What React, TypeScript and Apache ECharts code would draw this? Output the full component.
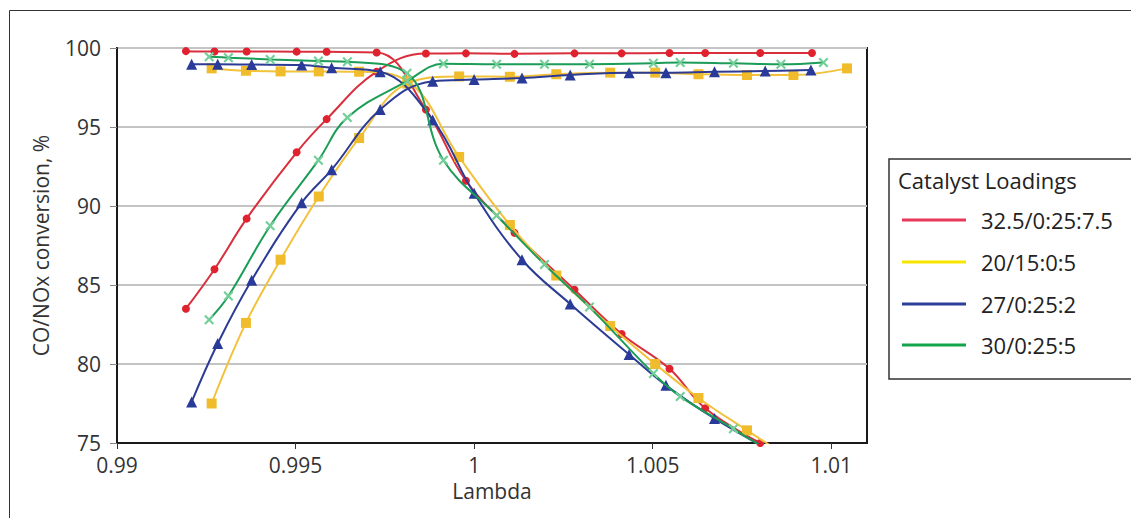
import React, { useEffect, useRef } from "react";
import * as echarts from "echarts";

// Lambda tick labels (x) and conversion ticks (y)
const xTicks = [0.99, 0.995, 1, 1.005, 1.01];
const yTicks = [75, 80, 85, 90, 95, 100];

// Catalyst loadings
const catalysts = ["32.5/0:25:7.5", "20/15:0:5", "27/0:25:2", "30/0:25:5"];

// 32.5/0:25:7.5 (red)
const redLambda = [0.99193, 0.99273, 0.99363, 0.99503, 0.99587, 0.99727, 0.99865, 0.99977, 1.00113, 1.00281, 1.00413, 1.00547, 1.00647, 1.00801, 1.00946];
const redCO = [83.5, 86.0, 89.2, 93.4, 95.5, 98.5, 99.65, 99.66, 99.63, 99.66, 99.66, 99.68, 99.68, 99.68, 99.68];
const redNOx = [99.8, 99.78, 99.78, 99.77, 99.76, 99.72, 96.1, 91.6, 88.3, 84.7, 81.9, 79.7, 77.2, 75.0, null];

// 20/15:0:5 (yellow)
const yellowLambda = [0.99265, 0.99361, 0.99458, 0.99565, 0.99678, 0.99813, 0.99958, 1.0010, 1.0023, 1.00381, 1.00507, 1.00628, 1.00764, 1.00894, 1.01044];
const yellowCO = [77.5, 82.6, 86.6, 90.6, 94.3, 97.75, 98.2, 98.18, 98.34, 98.44, 98.44, 98.34, 98.29, 98.29, 98.71];
const yellowNOx = [98.71, 98.56, 98.52, 98.52, 98.5, 97.9, 93.1, 88.8, 85.6, 82.4, 80.0, 77.85, 75.8, 73.9, null];

// 27/0:25:2 (blue)
const blueLambda = [0.99209, 0.99282, 0.99377, 0.99517, 0.99601, 0.99737, 0.99884, 1.0, 1.00134, 1.00269, 1.00434, 1.00537, 1.00673, 1.00815, 1.00943];
const blueCO = [77.6, 81.3, 85.3, 90.2, 92.3, 96.1, 97.9, 98.0, 98.1, 98.29, 98.44, 98.44, 98.5, 98.54, 98.6];
const blueNOx = [98.97, 98.97, 98.95, 98.92, 98.75, 98.5, 95.45, 90.8, 86.6, 83.8, 80.6, 78.65, 76.55, 74.7, null];

// 30/0:25:5 (green)
const greenLambda = [0.99258, 0.99312, 0.99429, 0.99564, 0.99645, 0.99812, 0.99914, 1.00063, 1.00197, 1.00323, 1.00502, 1.00577, 1.00726, 1.00859, 1.00978];
const greenCO = [82.8, 84.3, 88.75, 92.9, 95.6, 97.9, 99.0, 98.97, 98.97, 98.97, 99.03, 99.09, 99.03, 98.97, 99.09];
const greenNOx = [99.45, 99.39, 99.28, 99.18, 99.13, 98.4, 92.9, 89.4, 86.3, 83.6, 79.4, 77.95, 75.9, 74.0, null];

const FONT = "'Open Sans', 'Noto Sans', sans-serif";
const lineColors = ["#d92f3c", "#f2c23c", "#2c3b94", "#1b9c57"];
const markColors = ["#e0222e", "#f0bc2c", "#2a3a98", "#72cf98"];
const legendColors = ["#e8385a", "#f7e600", "#2e3f9a", "#13a54b"];
const CROSS = "path://M0,1.5L1.5,0L5,3.5L8.5,0L10,1.5L6.5,5L10,8.5L8.5,10L5,6.5L1.5,10L0,8.5L3.5,5Z";
const symbols = ["circle", "rect", "triangle", CROSS];
const symbolSizes = [8, 10, 11, 10];

function pairs(lam: number[], vals: (number | null)[]) {
  const out: number[][] = [];
  lam.forEach((x, i) => {
    const v = vals[i];
    if (v !== null && v !== undefined) out.push([x, v]);
  });
  return out;
}

export default function App() {
  const ref = useRef<HTMLDivElement>(null);
  useEffect(() => {
    if (!ref.current) return;
    const chart = echarts.init(ref.current, null, { renderer: "svg" });
    const sets = [
      [redLambda, redCO, redNOx],
      [yellowLambda, yellowCO, yellowNOx],
      [blueLambda, blueCO, blueNOx],
      [greenLambda, greenCO, greenNOx],
    ] as any[];
    const series: any[] = [];
    sets.forEach((s, k) => {
      [s[1], s[2]].forEach((vals: any) => {
        series.push({
          type: "line",
          name: catalysts[k],
          data: pairs(s[0], vals),
          smooth: 0.4,
          symbol: symbols[k],
          symbolSize: symbolSizes[k],
          showAllSymbol: true,
          clip: true,
          silent: true,
          lineStyle: { color: lineColors[k], width: 2 },
          itemStyle: { color: markColors[k] },
          z: 2 + k,
        });
      });
    });

    const legendY = [220, 262, 304, 345];
    const graphic: any[] = [
      {
        type: "rect",
        shape: { x: 9.5, y: 10.5, width: 1300, height: 700 },
        style: { fill: "none", stroke: "#333", lineWidth: 1 },
        silent: true,
        z: 0,
      },
      {
        type: "rect",
        shape: { x: 889, y: 159, width: 400, height: 220 },
        style: { fill: "#fff", stroke: "#333", lineWidth: 1.5 },
        z: 10,
      },
      {
        type: "text",
        x: 898,
        y: 180,
        style: { text: "Catalyst Loadings", font: `22px ${FONT}`, fill: "#222", verticalAlign: "middle" },
        z: 11,
      },
    ];
    catalysts.forEach((c, i) => {
      graphic.push({
        type: "line",
        shape: { x1: 902, y1: legendY[i], x2: 966, y2: legendY[i] },
        style: { stroke: legendColors[i], lineWidth: 3 },
        z: 11,
      });
      graphic.push({
        type: "text",
        x: 981,
        y: legendY[i],
        style: { text: c, font: `22px ${FONT}`, fill: "#222", verticalAlign: "middle" },
        z: 11,
      });
    });

    chart.setOption({
      animation: false,
      backgroundColor: "#fff",
      grid: {
        left: 117,
        top: 48,
        width: 750,
        height: 395,
        show: true,
        borderColor: "#1a1a1a",
        borderWidth: 2,
        backgroundColor: "transparent",
      },
      xAxis: {
        type: "value",
        min: xTicks[0],
        max: 1.011,
        interval: xTicks[1] - xTicks[0],
        name: "Lambda",
        nameLocation: "middle",
        nameGap: 37,
        nameTextStyle: { fontFamily: FONT, fontSize: 21, color: "#333" },
        axisLine: { show: true, lineStyle: { color: "#1a1a1a", width: 2 } },
        axisTick: { show: true, length: 6, lineStyle: { color: "#333" } },
        axisLabel: {
          fontFamily: FONT,
          fontSize: 21,
          color: "#333",
          margin: 11,
          showMaxLabel: false,
          formatter: (v: number) => {
            const t = xTicks.find((x) => Math.abs(x - v) < 1e-9);
            return t === undefined ? "" : String(t);
          },
        },
        splitLine: { show: false },
      },
      yAxis: {
        type: "value",
        min: yTicks[0],
        max: yTicks[yTicks.length - 1],
        interval: yTicks[1] - yTicks[0],
        name: "CO/NOx conversion, %",
        nameLocation: "middle",
        nameGap: 66,
        nameTextStyle: { fontFamily: FONT, fontSize: 21, color: "#333" },
        axisLine: { show: true, lineStyle: { color: "#1a1a1a", width: 2 } },
        axisTick: { show: true, length: 7, lineStyle: { color: "#888" } },
        axisLabel: { fontFamily: FONT, fontSize: 21, color: "#333", margin: 16 },
        splitLine: { show: true, lineStyle: { color: "#c4c4c4", width: 2 } },
      },
      series,
      graphic,
    });
    return () => chart.dispose();
  }, []);
  return (
    <div
      ref={ref}
      style={{ position: "absolute", left: 0, top: 0, width: 1131, height: 518 }}
    />
  );
}
